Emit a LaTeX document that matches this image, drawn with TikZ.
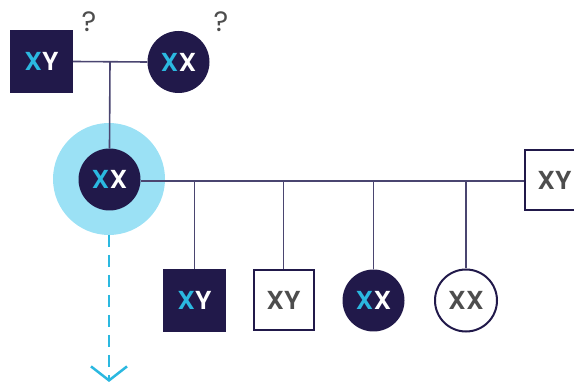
\documentclass[tikz,border=0pt]{standalone}
\usepackage{fontspec}
\setmainfont{Poppins}[BoldFont={Poppins SemiBold}]
\usetikzlibrary{arrows.meta}
\definecolor{navy}{HTML}{21194A}
\definecolor{linec}{HTML}{4A4570}
\definecolor{cyanx}{HTML}{2BB8E0}
\definecolor{halo}{HTML}{9BE1F5}
\definecolor{grayt}{HTML}{4D4D4D}
\begin{document}
\begin{tikzpicture}[x=1pt,y=-1pt,
  darksq/.style={rectangle,fill=navy,minimum size=63pt,inner sep=0pt},
  darkci/.style={circle,fill=navy,minimum size=62pt,inner sep=0pt},
  whitesq/.style={rectangle,draw=navy,line width=2pt,fill=white,minimum size=60pt,inner sep=0pt},
  whiteci/.style={circle,draw=navy,line width=2pt,fill=white,minimum size=62pt,inner sep=0pt},
  link/.style={draw=linec,line width=1.6pt},
  lbl/.style={font=\fontsize{26}{26}\selectfont\bfseries},
  qm/.style={font=\fontsize{28}{28}\selectfont,text=grayt}]
\useasboundingbox (0,0) rectangle (574,385);
% halo
\fill[halo] (109,179) circle (56);
% nodes
\node[darksq,lbl] (f) at (41.5,61.5) {\textcolor{cyanx}{X}\textcolor{white}{Y}};
\node[darkci,lbl] (m) at (178.5,62) {\textcolor{cyanx}{X}\textcolor{white}{X}};
\node[qm] (q1) at (89,22) {?};
\node[qm] (q2) at (221,22) {?};
\node[darkci,lbl] (p) at (109.5,179.5) {\textcolor{cyanx}{X}\textcolor{white}{X}};
\node[whitesq,lbl,text=grayt] (sp) at (554.5,180.5) {XY};
\node[darksq,lbl] (c1) at (194.5,300.5) {\textcolor{cyanx}{X}\textcolor{white}{Y}};
\node[whitesq,lbl,text=grayt] (c2) at (283.5,300.5) {XY};
\node[darkci,lbl] (c3) at (373.5,300.5) {\textcolor{cyanx}{X}\textcolor{white}{X}};
\node[whiteci,lbl,text=grayt] (c4) at (466,300.5) {XX};
% connectors
\coordinate (j1) at (110,61.5);
\draw[link] (f.east) -- (m.west);
\draw[link] (j1) -- (p.north);
\coordinate (s1) at (194.5,181);
\coordinate (s2) at (283.5,181);
\coordinate (s3) at (373.5,181);
\coordinate (s4) at (466,181);
\draw[link] (p.east |- 0,181) -- (sp.west |- 0,181);
\draw[link] (s1) -- (c1.north);
\draw[link] (s2) -- (c2.north);
\draw[link] (s3) -- (c3.north);
\draw[link] (s4) -- (c4.north);
\coordinate (down) at (109,382);
\coordinate (hb) at (109,235);
\draw[cyanx,line width=2.5pt,dash pattern=on 12pt off 8pt,-{Straight Barb[length=14pt,width=36pt,line width=2.5pt]}] (hb) -- (down);
\end{tikzpicture}
\end{document}
